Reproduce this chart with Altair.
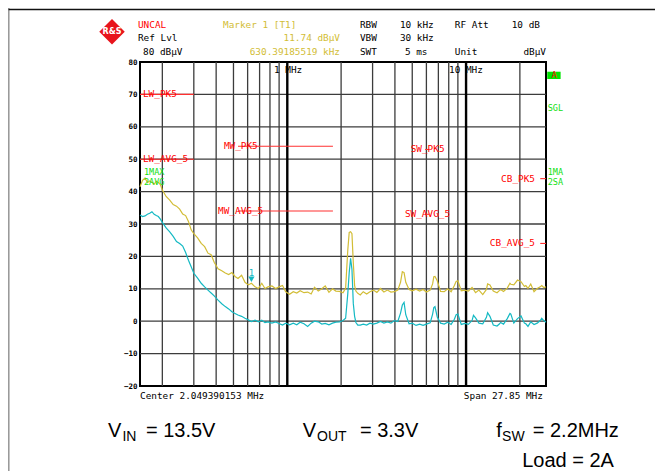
import altair as alt
import pandas as pd

# ---------------- data ----------------
freq_mhz = [0.15, 0.155, 0.16, 0.165, 0.17, 0.175, 0.18, 0.185, 0.19, 0.195, 0.2, 0.21, 0.22, 0.23,
            0.24, 0.25, 0.26, 0.27, 0.28, 0.29, 0.30, 0.315, 0.33, 0.345, 0.36, 0.375, 0.39, 0.41,
            0.43, 0.45, 0.47, 0.49, 0.51, 0.53, 0.555, 0.58, 0.605, 0.63, 0.66, 0.69, 0.72, 0.75,
            0.78, 0.82, 0.86, 0.9, 0.94, 0.98, 1.03, 1.08, 1.13, 1.18, 1.24, 1.3, 1.36, 1.42, 1.49,
            1.56, 1.63, 1.71, 1.79, 1.87, 1.96, 2.05, 2.12, 2.18, 2.22, 2.26, 2.3, 2.34, 2.38, 2.42,
            2.48, 2.56, 2.66, 2.78, 2.9, 3.03, 3.17, 3.32, 3.47, 3.63, 3.8, 3.97, 4.15, 4.3, 4.4,
            4.5, 4.6, 4.8, 5.0, 5.25, 5.5, 5.75, 6.0, 6.3, 6.5, 6.6, 6.7, 6.9, 7.2, 7.55, 7.9, 8.25,
            8.6, 8.8, 9.0, 9.4, 9.85, 10.3, 10.8, 11.0, 11.3, 11.8, 12.4, 13.0, 13.2, 13.6, 14.2,
            14.9, 15.4, 15.6, 16.2, 17.0, 17.6, 17.8, 18.5, 19.4, 20.3, 21.2, 21.6, 22.2, 23.0,
            24.0, 25.0, 26.0, 26.5, 27.2, 28.0]

peak_dbuv = [41.5, 43.5, 44.2, 42.8, 43.3, 42.9, 42.3, 43.2, 42.8, 42.2, 40.5, 38.5, 37.4, 36.0,
             35.5, 34.6, 33.1, 32.6, 30.8, 28.2, 27.0, 25.7, 24.0, 23.0, 21.0, 20.5, 18.2, 16.2,
             15.6, 14.9, 14.4, 15.0, 13.8, 13.2, 14.2, 12.0, 11.2, 11.7, 10.6, 10.1, 11.7, 10.1,
             10.6, 10.9, 10.1, 10.6, 11.0, 9.1, 8.3, 9.1, 8.7, 9.4, 8.8, 9.0, 8.4, 10.5, 9.3,
             10.0, 10.9, 8.9, 10.0, 9.3, 9.2, 8.8, 10.2, 22.0, 27.4, 27.6, 27.0, 18.0, 11.0, 9.3,
             8.6, 8.1, 9.1, 8.4, 9.1, 9.6, 8.9, 10.1, 9.0, 9.6, 9.0, 9.1, 9.6, 12.0, 15.3,
             15.0, 12.0, 9.8, 9.4, 9.9, 9.3, 9.8, 9.0, 9.6, 11.5, 13.7, 13.8, 12.5, 9.2, 9.1, 10.0, 9.1,
             11.0, 12.3, 12.5, 9.4, 9.6, 9.3, 10.4, 9.8, 8.8, 9.6, 8.2, 9.8, 11.5, 11.2, 9.3,
             8.8, 9.5, 9.8, 9.2, 10.2, 11.7, 11.4, 11.2, 12.7, 12.2, 10.7, 11.0, 10.1, 11.5,
             9.1, 10.1, 10.6, 11.0, 10.4, 10.6]

avg_dbuv = [32.8, 32.3, 32.5, 33.0, 33.3, 33.8, 33.0, 32.6, 32.3, 31.5, 30.5, 28.8, 27.6, 26.2,
            24.6, 24.0, 23.2, 21.2, 18.8, 16.8, 14.8, 13.3, 11.7, 10.6, 9.6, 8.7, 7.8, 6.5,
            5.4, 4.5, 3.8, 2.9, 2.4, 1.9, 1.5, 0.9, 0.4, -0.1, 0.3, -0.2, 0.3, -0.4,
            -0.2, -0.6, -0.2, -0.7, -1.2, -0.6, -1.1, -0.6, -1.1, -0.3, -0.8, -1.6, -0.6, 0.0, -0.2,
            -0.9, -0.7, -1.1, -0.6, -0.3, -0.2, 0.2, 0.9, 8.5, 15.0, 19.4, 16.0, 5.5, 1.5, -0.4,
            -1.2, -1.2, -0.9, -1.2, -0.6, -0.9, -0.6, -0.1, -0.6, -0.2, -0.6, 0.2, -0.1, 2.5, 5.0,
            5.8, 2.0, -0.8, -0.6, -1.3, -0.9, -1.3, -0.9, -0.5, 2.2, 4.2, 4.5, 1.3, -0.6, -0.9, -0.3, -1.0,
            0.6, 2.0, 2.2, -1.0, -0.7, -1.0, 0.2, 1.8, 1.0, -0.6, -0.8, 1.2, 2.6, 1.5, -1.2,
            -1.5, -0.8, -0.4, -0.9, 0.8, 2.4, 2.2, -0.6, 0.8, 1.6, -0.6, -0.8, -1.6, -0.2,
            -1.0, -0.6, 0.2, 0.9, 0.2, -0.3]

limit_names = ["LW_PK5", "LW_AVG_5", "MW_PK5", "MW_AVG_5", "SW_PK5", "SW_AVG_5", "CB_PK5", "CB_AVG_5"]
limit_start_mhz = [0.15, 0.15, 0.53, 0.53, 5.9, 5.9, 26.0, 26.0]
limit_stop_mhz = [0.30, 0.30, 1.8, 1.8, 6.2, 6.2, 28.0, 28.0]
limit_level_dbuv = [70, 50, 54, 34, 53, 33, 44, 24]

minor_grid_mhz = [0.2, 0.3, 0.4, 0.5, 0.6, 0.7, 0.8, 0.9, 2, 3, 4, 5, 6, 7, 8, 9, 20]
major_grid_mhz = [1, 10]
level_grid_dbuv = [-10, 0, 10, 20, 30, 40, 50, 60, 70]
y_tick_values = [-20, -10, 0, 10, 20, 30, 40, 50, 60, 70, 80]

marker_freq_mhz = [0.63]
marker_level_dbuv = [11.74]

# annotation texts (placed in data space: frequency MHz / level dBuV)
RED, BLACK, YEL, GRN, CYAN = "#ff0000", "#000000", "#d2bd36", "#10e010", "#14b9c3"
mono_left = pd.DataFrame([
    ("UNCAL", 0.1461, 91.4, RED, 9.4),
    ("Ref Lvl", 0.1461, 87.4, BLACK, 9.4),
    ("80 dBµV", 0.1559, 83.1, BLACK, 9.4),
    ("Marker 1 [T1]", 0.437, 91.4, YEL, 9.4),
    ("RBW", 2.549, 91.4, BLACK, 9.4),
    ("VBW", 2.549, 87.4, BLACK, 9.4),
    ("SWT", 2.549, 83.1, BLACK, 9.4),
    ("10 kHz", 4.265, 91.4, BLACK, 9.4),
    ("30 kHz", 4.265, 87.4, BLACK, 9.4),
    ("5 ms", 4.55, 83.1, BLACK, 9.4),
    ("RF Att", 8.65, 91.4, BLACK, 9.4),
    ("Unit", 8.65, 83.1, BLACK, 9.4),
    ("1 MHz", 0.843, 77.5, BLACK, 9.4),
    ("10 MHz", 8.03, 77.5, BLACK, 9.4),
    ("LW_PK5", 0.1558, 70, RED, 9.4),
    ("LW_AVG_5", 0.1558, 50, RED, 9.4),
    ("MW_PK5", 0.442, 54, RED, 9.4),
    ("MW_AVG_5", 0.41, 34, RED, 9.4),
    ("SW_PK5", 4.9, 53, RED, 9.4),
    ("SW_AVG_5", 4.55, 33, RED, 9.4),
    ("1MAX", 0.1578, 46.1, GRN, 8.5),
    ("2AVG", 0.1578, 42.9, GRN, 8.5),
    ("SGL", 28.6, 65.7, GRN, 8.5),
    ("1MA", 28.6, 46.1, GRN, 8.5),
    ("2SA", 28.6, 42.9, GRN, 8.5),
    ("Center 2.049390153 MHz", 0.15, -23.1, BLACK, 9.4),
], columns=["label", "f", "db", "color", "size"])

mono_right = pd.DataFrame([
    ("11.74 dBµV", 1.972, 87.4, YEL, 9.4),
    ("630.39185519 kHz", 1.972, 83.1, YEL, 9.4),
    ("10 dB", 25.9, 91.4, BLACK, 9.4),
    ("dBµV", 28.0, 83.1, BLACK, 9.4),
    ("CB_PK5", 24.3, 44, RED, 9.4),
    ("CB_AVG_5", 24.3, 24, RED, 9.4),
    ("Span 27.85 MHz", 26.9, -23.1, BLACK, 9.4),
], columns=["label", "f", "db", "color", "size"])

mono_center = pd.DataFrame([
    ("A", 31.1, 75.9, RED, 9.0),
    ("1", 0.63, 14.9, CYAN, 9.0),
], columns=["label", "f", "db", "color", "size"])

big_text = pd.DataFrame([
    ("V", 0.0993, -35.7, 20),
    ("IN", 0.1197, -37.0, 14),
    ("= 13.5V", 0.1619, -35.7, 20),
    ("V", 1.222, -35.7, 20),
    ("OUT", 1.466, -37.0, 14),
    ("= 3.3V", 2.549, -35.7, 20),
    ("f", 14.73, -35.7, 20),
    ("SW", 15.9, -37.0, 14),
    ("= 2.2MHz", 23.6, -35.7, 20),
    ("Load = 2A", 20.6, -45.0, 20),
], columns=["label", "f", "db", "size"])

# ---------------- encodings ----------------
xscale = alt.Scale(type="log", domain=[0.15, 28], nice=False)
yscale = alt.Scale(domain=[-20, 80], nice=False, zero=False)
yaxis = alt.Axis(values=y_tick_values, title=None, ticks=False, domain=False, grid=False,
                 labelFont="DejaVu Sans Mono", labelFontSize=7.5, labelFontWeight="bold",
                 labelColor="black", labelPadding=3)


def X(field):
    return alt.X(f"{field}:Q", scale=xscale, axis=None)


def Y(field):
    return alt.Y(f"{field}:Q", scale=yscale, axis=yaxis)


trace_df = pd.DataFrame({"f": freq_mhz, "peak": peak_dbuv, "avg": avg_dbuv})
limits_df = pd.DataFrame({"name": limit_names, "start": limit_start_mhz,
                          "stop": limit_stop_mhz, "level": limit_level_dbuv})

hgrid = alt.Chart(pd.DataFrame({"db": level_grid_dbuv})).mark_rule(
    color="#3c3c3c", strokeWidth=1.3).encode(y=Y("db"))
vgrid = alt.Chart(pd.DataFrame({"f": minor_grid_mhz})).mark_rule(
    color="#3c3c3c", strokeWidth=1.3).encode(x=X("f"))
vgrid_major = alt.Chart(pd.DataFrame({"f": major_grid_mhz})).mark_rule(
    color="#000000", strokeWidth=2.4).encode(x=X("f"))

limit_rules = alt.Chart(limits_df).mark_rule(color="#ff3030", strokeWidth=1.1).encode(
    x=X("start"), x2="stop", y=Y("level"))

peak_line = alt.Chart(trace_df).mark_line(color="#d2bd36", strokeWidth=1.2).encode(
    x=X("f"), y=Y("peak"))
avg_line = alt.Chart(trace_df).mark_line(color="#14b9c3", strokeWidth=1.2).encode(
    x=X("f"), y=Y("avg"))

marker = alt.Chart(pd.DataFrame({"f": marker_freq_mhz, "db": marker_level_dbuv})).mark_point(
    shape="triangle-down", filled=True, color=CYAN, size=40, opacity=1, yOffset=-4).encode(
    x=X("f"), y=Y("db"))

# outer page frame lines
frame_v = alt.Chart(pd.DataFrame({"f": [0.0276], "db": [100.0], "db2": [-60.0]})).mark_rule(
    color="#9a9a9a", strokeWidth=2).encode(x=X("f"), y=Y("db"), y2="db2")
frame_h = alt.Chart(pd.DataFrame({"f": [0.0276], "f2": [300.0], "db": [96.2]})).mark_rule(
    color="#111111", strokeWidth=1.5).encode(x=X("f"), x2="f2", y=Y("db"))

# R&S style logo
logo = alt.Chart(pd.DataFrame({"f": [0.1046], "db": [89.3]})).mark_point(
    shape="diamond", filled=True, color="#e8141c", size=650, opacity=1).encode(x=X("f"), y=Y("db"))
logo_txt = alt.Chart(pd.DataFrame({"f": [0.1046], "db": [89.3], "label": ["R&S"]})).mark_text(
    font="DejaVu Sans", fontSize=8, fontWeight="bold", color="white").encode(
    x=X("f"), y=Y("db"), text="label:N")

# green status box at right
abox = alt.Chart(pd.DataFrame({"f": [28.45], "f2": [33.8], "db": [77.0], "db2": [74.75]})).mark_rect(
    color="#00e600").encode(x=X("f"), x2="f2", y=Y("db"), y2="db2")


def text_layer(df, align, font="DejaVu Sans Mono", baseline="middle"):
    return alt.Chart(df).mark_text(align=align, baseline=baseline, font=font).encode(
        x=X("f"), y=Y("db"), text="label:N",
        color=alt.Color("color:N", scale=None),
        size=alt.Size("size:Q", scale=None))


t_left = text_layer(mono_left, "left")
t_right = text_layer(mono_right, "right")
t_center = text_layer(mono_center, "center")
t_big = alt.Chart(big_text).mark_text(align="left", baseline="alphabetic",
                                      font="Liberation Sans", color="black").encode(
    x=X("f"), y=Y("db"), text="label:N", size=alt.Size("size:Q", scale=None))

chart = alt.layer(
    frame_v, frame_h, hgrid, vgrid, vgrid_major, limit_rules, peak_line, avg_line,
    marker, abox, logo, logo_txt, t_left, t_right, t_center, t_big
).properties(
    width=406, height=324, autosize="none",
    padding={"left": 132, "top": 54, "right": 109, "bottom": 85},
    background="white",
).configure_view(stroke="black", strokeWidth=2)

chart.save("out.html", embed_options={"renderer": "svg", "actions": False})
